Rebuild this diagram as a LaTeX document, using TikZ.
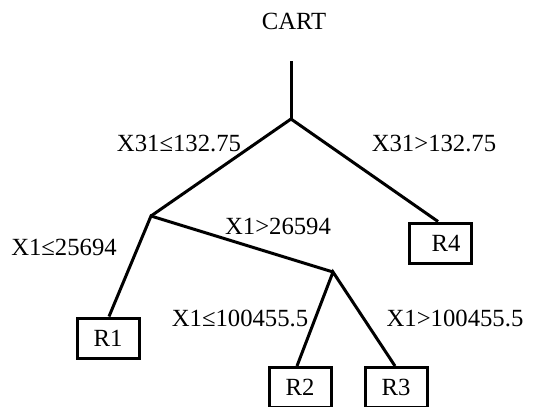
\documentclass[tikz,border=0pt]{standalone}
\usepackage{fontspec}
\setmainfont{Liberation Serif}
\begin{document}
\begin{tikzpicture}[x=1pt,y=-1pt,
  every node/.style={font=\fontsize{24.7}{28}\selectfont, inner sep=0pt},
  branch/.style={line width=3pt, line join=miter},
  leaf/.style={draw, line width=3pt, minimum width=62pt, minimum height=40pt},
  cond/.style={anchor=center}]
  \useasboundingbox (0,0) rectangle (555,407);

  % title
  \node (title) at (294,21) {CART};

  % split points
  \coordinate (top) at (291,61);
  \coordinate (root) at (291,119);
  \coordinate (n1) at (151,216);
  \coordinate (n2) at (333,272);

  % leaves
  \node[leaf] (r1) at (108,338) {R1};
  \node[leaf] (r4) at (440,243) {\hspace{12pt}R4};
  \node[leaf] (r2) at (300,387.5) {R2};
  \node[leaf] (r3) at (396,387.5) {R3};

  % branches
  \draw[branch] (top) -- (root);
  \draw[branch] (n1) -- (root) -- ([xshift=-2pt]r4.north);
  \draw[branch] ([xshift=1pt]r1.north) -- (n1) -- (n2);
  \draw[branch] ([xshift=-3pt]r2.north) -- (n2) -- ([xshift=-1pt]r3.north);

  % split conditions
  \node[cond] (c1) at (179,143) {X31≤132.75};
  \node[cond] (c2) at (434,143) {X31>132.75};
  \node[cond] (c3) at (64,247) {X1≤25694};
  \node[cond] (c4) at (278,226) {X1>26594};
  \node[cond] (c5) at (240,318) {X1≤100455.5};
  \node[cond] (c6) at (455,318) {X1>100455.5};
\end{tikzpicture}
\end{document}
